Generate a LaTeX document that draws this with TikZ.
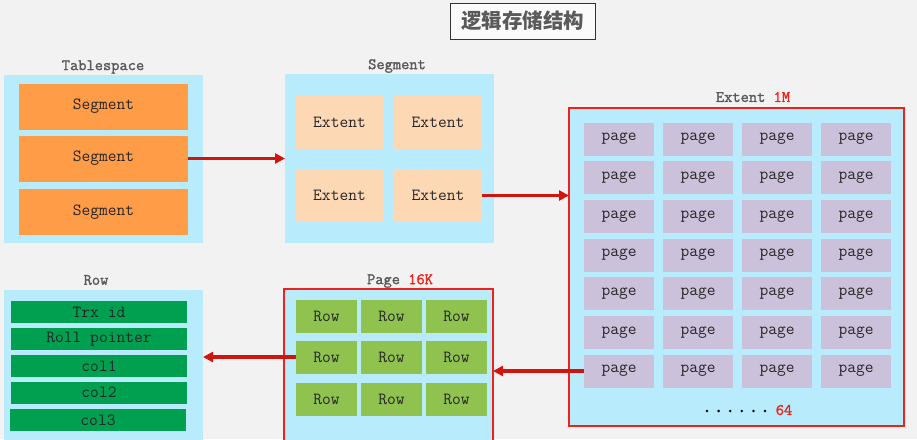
\documentclass[tikz,border=0pt]{standalone}
\usepackage{fontspec}
\newfontfamily\cjk{Noto Sans CJK SC}
\newfontfamily\labfont[FakeBold=1.6]{Latin Modern Mono}
\usetikzlibrary{arrows.meta}
\definecolor{bg}{HTML}{F2F2F2}
\definecolor{contblue}{HTML}{B8EBFB}
\definecolor{segorange}{HTML}{FF9C48}
\definecolor{extpeach}{HTML}{FDD8B5}
\definecolor{pagelav}{HTML}{CCC1DA}
\definecolor{rowgreen}{HTML}{8FC24F}
\definecolor{fieldgreen}{HTML}{00A050}
\definecolor{redline}{HTML}{F0201A}
\definecolor{arrred}{HTML}{D0150F}
\definecolor{labgray}{HTML}{5A5A5A}
\begin{document}
\begin{tikzpicture}[x=1pt,y=-1pt,
  every node/.style={inner sep=0pt,outer sep=0pt},
  cont/.style={fill=contblue,draw=none,rectangle},
  redcont/.style={fill=contblue,draw=redline,line width=1.6pt,rectangle},
  lab/.style={font=\labfont\fontsize{16}{17}\selectfont,text=labgray},
  boxfont/.style={font=\ttfamily\fontsize{17}{18}\selectfont,text=black!85},
  segbox/.style={boxfont,fill=segorange,minimum width=169pt,minimum height=46pt},
  extbox/.style={boxfont,fill=extpeach,minimum width=88pt,minimum height=53pt},
  pagebox/.style={boxfont,fill=pagelav,minimum width=70pt,minimum height=33pt},
  rowbox/.style={boxfont,fill=rowgreen,minimum width=61pt,minimum height=33pt},
  fieldbox/.style={boxfont,fill=fieldgreen,minimum width=176pt,minimum height=22pt},
  dotstyle/.style={fill=black,circle,minimum size=2.8pt},
  arr/.style={draw=arrred,line width=3.2pt,-{Triangle[length=10pt,width=10pt]}}
]
\useasboundingbox (0,0) rectangle (917,439);
\fill[bg] (0,0) rectangle (917,439);
\clip (0,0) rectangle (917,439);

% title
\node[draw=black!80,line width=0.8pt,fill=white!60!bg,minimum width=145pt,minimum height=36pt,font=\cjk\bfseries\fontsize{20.5}{22}\selectfont,text=labgray] (title) at (522.5,21) {逻辑存储结构};

% Tablespace
\node[cont,minimum width=199pt,minimum height=168pt] (tsc) at (103.5,159) {};
\node[lab] (tslab) at (103,67) {Tablespace};
\node[segbox] (s1) at (103.5,106.5) {Segment};
\node[segbox] (s2) at (103.5,158.5) {Segment};
\node[segbox] (s3) at (103.5,212) {Segment};

% Segment
\node[cont,minimum width=209pt,minimum height=169pt] (segc) at (389.5,158.5) {};
\node[lab] (seglab) at (397,66) {Segment};
\node[extbox] (e11) at (339.5,122.5) {Extent};
\node[extbox] (e12) at (438,122.5) {Extent};
\node[extbox] (e21) at (339.5,195.5) {Extent};
\node[extbox] (e22) at (438,195.5) {Extent};

% Extent
\node[redcont,minimum width=335pt,minimum height=318pt] (extc) at (736.5,267) {};
\node[lab] (extlab) at (753,97) {Extent \textcolor{redline}{1M}};
\foreach \r/\y in {1/139,2/177.7,3/216.3,4/255,5/293.7,6/332.3,7/371}{
  \foreach \c/\x in {1/619,2/698,3/777,4/856}{
    \node[pagebox] (p\r\c) at (\x,\y) {page};
  }
}
\foreach \i in {0,...,5}{
  \node[dotstyle] (d\i) at (707+11.6*\i,411) {};
}
\node[font=\labfont\fontsize{16}{17}\selectfont,text=redline] (n64) at (784,410) {64};

% Page
\node[redcont,minimum width=209pt,minimum height=170pt] (pagec) at (388.5,374) {};
\node[lab] (pagelab) at (400,281) {Page \textcolor{redline}{16K}};
\foreach \r/\y in {1/316.5,2/357,3/399.5}{
  \foreach \c/\x in {1/326.5,2/391.5,3/456.5}{
    \node[rowbox] (r\r\c) at (\x,\y) {Row};
  }
}

% Row
\node[cont,minimum width=199pt,minimum height=170pt] (rowc) at (103.5,375) {};
\node[lab] (rowlab) at (96,280) {Row};
\node[fieldbox] (f1) at (99,312) {Trx id};
\node[fieldbox] (f2) at (99,339) {Roll pointer};
\node[fieldbox] (f3) at (99,366) {col1};
\node[fieldbox] (f4) at (99,392.5) {col2};
\node[fieldbox] (f5) at (98,420) {col3};

% arrows
\draw[arr] (s2.east) -- (segc.west |- s2.east);
\draw[arr] (e22.east) -- (extc.west |- e22.east);
\draw[arr] (p71.west) -- (pagec.east |- p71.west);
\draw[arr] (r21.west) -- (rowc.east |- r21.west);
\end{tikzpicture}
\end{document}
